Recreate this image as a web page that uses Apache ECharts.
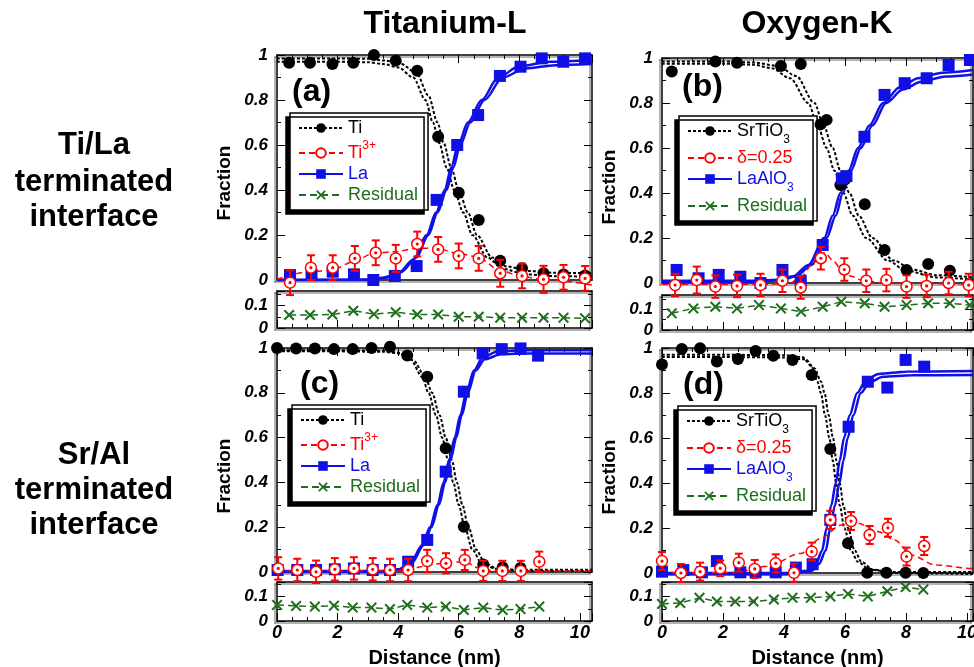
<!DOCTYPE html>
<html><head><meta charset="utf-8">
<script src="https://cdn.jsdelivr.net/npm/echarts@6.0.0/dist/echarts.min.js"></script>
<style>html,body{margin:0;padding:0;background:#fff}#c{width:974px;height:667px}</style>
</head><body><div id="c"></div><script>
// ---------- Panel (a): Titanium-L, Ti/La interface ----------
const a_Ti = [[0.40,0.966],[1.09,0.966],[1.83,0.960],[2.52,0.966],[3.20,1.000],[3.92,0.975],[4.63,0.930],[5.32,0.637],[6.00,0.388],[6.66,0.267],[7.37,0.086],[8.09,0.052],[8.80,0.030],[9.46,0.025],[10.17,0.020]];
const a_La = [[0.43,0.022],[1.14,0.022],[1.84,0.037],[2.54,0.025],[3.18,0.000],[3.89,0.018],[4.61,0.062],[5.27,0.356],[5.95,0.600],[6.64,0.733],[7.36,0.907],[8.04,0.948],[8.74,0.985],[9.45,0.970],[10.17,0.985]];
const a_Ti3 = [[0.43,-0.012,0.055],[1.12,0.055,0.055],[1.84,0.055,0.055],[2.57,0.096,0.055],[3.26,0.121,0.055],[3.92,0.096,0.06],[4.63,0.160,0.055],[5.32,0.136,0.055],[6.00,0.107,0.055],[6.66,0.096,0.055],[7.37,0.030,0.06],[8.09,0.018,0.055],[8.80,0.003,0.06],[9.46,0.012,0.055],[10.17,0.007,0.055]];
const a_Res = [[0.40,0.058],[1.09,0.058],[1.83,0.060],[2.52,0.077],[3.20,0.062],[3.92,0.070],[4.63,0.060],[5.32,0.060],[6.00,0.050],[6.66,0.050],[7.37,0.046],[8.09,0.046],[8.80,0.046],[9.46,0.046],[10.17,0.043]];
const a_Ti_fit1 = [[0,0.985],[2,0.985],[3,0.983],[3.6,0.975],[4.1,0.96],[4.6,0.92],[5.0,0.82],[5.3,0.7],[5.5,0.61],[5.75,0.5],[6.0,0.4],[6.3,0.3],[6.6,0.2],[7.1,0.1],[7.6,0.06],[8.3,0.04],[9.2,0.032],[10.4,0.03]];
const a_Ti_fit2 = [[0,0.97],[2,0.97],[3,0.968],[3.5,0.96],[4.0,0.945],[4.5,0.9],[4.9,0.8],[5.15,0.7],[5.35,0.61],[5.6,0.5],[5.85,0.4],[6.15,0.3],[6.45,0.2],[6.95,0.1],[7.45,0.05],[8.2,0.025],[9.2,0.017],[10.4,0.015]];
const a_La_fit1 = [[0,0.0],[3,0.002],[3.5,0.01],[4,0.03],[4.5,0.09],[4.94,0.2],[5.25,0.3],[5.54,0.4],[5.75,0.5],[5.98,0.6],[6.3,0.7],[6.76,0.8],[7.3,0.9],[8.0,0.95],[9,0.97],[10.4,0.978]];
const a_La_fit2 = [[0,0.0],[3,0.0],[3.6,0.01],[4.1,0.035],[4.6,0.1],[5.0,0.2],[5.3,0.3],[5.6,0.4],[5.82,0.5],[6.05,0.6],[6.38,0.7],[6.85,0.8],[7.45,0.9],[8.2,0.94],[9.2,0.955],[10.4,0.96]];
const a_Ti3_fit = [[0,0.003],[1.09,0.037],[1.8,0.044],[2.52,0.081],[3.18,0.118],[3.89,0.126],[4.61,0.141],[5.27,0.141],[5.98,0.118],[6.59,0.104],[7.36,0.044],[8.07,0.015],[8.79,0.003],[10.4,-0.022]];

// ---------- Panel (b): Oxygen-K, Ti/La interface ----------
const b_STO = [[0.32,0.940],[1.75,0.984],[2.46,0.979],[3.90,0.964],[4.55,0.973],[5.20,0.705],[5.40,0.725],[5.85,0.436],[6.00,0.460],[6.65,0.350],[7.30,0.147],[8.02,0.058],[8.73,0.084],[9.44,0.055]];
const b_LAO = [[0.48,0.058],[1.20,0.021],[1.86,0.036],[2.57,0.028],[3.23,0.000],[3.95,0.058],[4.55,0.010],[5.27,0.169],[5.90,0.465],[6.05,0.475],[6.64,0.650],[7.30,0.836],[7.96,0.888],[8.68,0.910],[9.40,0.969],[10.10,0.991]];
const b_delta = [[0.43,-0.009,0.05],[1.14,0.013,0.06],[1.75,-0.016,0.05],[2.46,-0.013,0.05],[3.23,-0.009,0.05],[3.95,0.010,0.05],[4.55,-0.020,0.05],[5.21,0.110,0.05],[5.98,0.060,0.05],[6.70,0.010,0.05],[7.36,0.013,0.05],[8.02,-0.016,0.05],[8.68,-0.013,0.05],[9.40,0.000,0.05],[10.06,-0.009,0.05]];
const b_Res = [[0.32,0.081],[1.03,0.105],[1.75,0.113],[2.46,0.105],[3.18,0.121],[3.90,0.105],[4.56,0.089],[5.27,0.113],[5.88,0.137],[6.65,0.130],[7.30,0.113],[8.02,0.121],[8.73,0.130],[9.44,0.130],[10.10,0.121]];
const b_STO_fit1 = [[0,0.985],[2,0.985],[3,0.98],[3.8,0.965],[4.4,0.92],[5.0,0.8],[5.3,0.7],[5.6,0.6],[5.85,0.5],[6.15,0.4],[6.45,0.3],[6.9,0.2],[7.6,0.1],[8.2,0.06],[9,0.035],[10.2,0.025]];
const b_STO_fit2 = [[0,0.975],[2,0.975],[3,0.97],[3.6,0.955],[4.2,0.91],[4.8,0.8],[5.1,0.7],[5.4,0.6],[5.65,0.5],[5.95,0.4],[6.25,0.3],[6.7,0.2],[7.4,0.1],[8.0,0.055],[9,0.025],[10.2,0.015]];
const b_LAO_fit1 = [[0,0.01],[3,0.01],[3.8,0.015],[4.3,0.03],[4.8,0.08],[5.32,0.2],[5.6,0.3],[5.85,0.4],[6.12,0.5],[6.43,0.6],[6.8,0.7],[7.25,0.8],[7.8,0.87],[8.4,0.91],[9.2,0.935],[10.2,0.947]];
const b_LAO_fit2 = [[0,0.005],[3,0.005],[3.9,0.012],[4.4,0.03],[4.9,0.08],[5.4,0.2],[5.7,0.3],[5.93,0.4],[6.2,0.5],[6.52,0.6],[6.9,0.7],[7.35,0.8],[7.9,0.86],[8.5,0.895],[9.3,0.918],[10.2,0.927]];
const b_delta_fit = [[0,-0.005],[3.5,-0.005],[4.2,0.0],[4.6,0.03],[4.9,0.08],[5.15,0.125],[5.35,0.135],[5.6,0.1],[5.9,0.058],[6.2,0.03],[6.55,0.013],[7.2,0.0],[10.2,-0.005]];

// ---------- Panel (c): Titanium-L, Sr/Al interface ----------
const c_Ti = [[0.00,1.000],[0.63,0.998],[1.25,0.998],[1.88,0.995],[2.50,0.995],[3.12,1.000],[3.73,1.006],[4.30,0.966],[4.96,0.872],[5.57,0.552],[6.17,0.202],[6.81,0.034],[7.45,0.020],[8.04,0.018]];
const c_La = [[0.02,0.009],[0.67,0.009],[1.29,0.009],[1.91,0.012],[2.54,0.016],[3.16,0.009],[3.73,0.009],[4.33,0.046],[4.96,0.143],[5.57,0.448],[6.17,0.805],[6.79,0.976],[7.42,0.995],[8.04,0.998],[8.62,0.966]];
const c_Ti3 = [[0.04,0.016,0.05],[0.67,0.009,0.05],[1.29,0.001,0.05],[1.91,0.012,0.05],[2.54,0.016,0.05],[3.16,0.012,0.05],[3.73,0.009,0.05],[4.33,0.009,0.05],[4.96,0.049,0.05],[5.58,0.039,0.045],[6.20,0.054,0.045],[6.81,0.005,0.045],[7.44,0.005,0.045],[8.05,0.005,0.045],[8.66,0.046,0.045]];
const c_Res = [[0.00,0.066],[0.63,0.062],[1.25,0.059],[1.88,0.063],[2.50,0.055],[3.12,0.055],[3.73,0.049],[4.30,0.066],[4.96,0.055],[5.57,0.059],[6.17,0.045],[6.81,0.055],[7.45,0.045],[8.04,0.049],[8.66,0.059]];
const c_Ti_fit1 = [[0,0.99],[2,0.99],[3.5,0.988],[4.0,0.98],[4.4,0.95],[4.8,0.87],[5.0,0.8],[5.25,0.7],[5.45,0.6],[5.65,0.5],[5.82,0.4],[6.0,0.3],[6.2,0.2],[6.45,0.1],[6.75,0.04],[7.2,0.015],[8,0.01],[10.4,0.01]];
const c_Ti_fit2 = [[0,0.985],[2,0.985],[3.5,0.983],[4.1,0.975],[4.5,0.945],[4.9,0.87],[5.12,0.8],[5.37,0.7],[5.57,0.6],[5.77,0.5],[5.94,0.4],[6.12,0.3],[6.32,0.2],[6.57,0.1],[6.87,0.04],[7.3,0.012],[8,0.005],[10.4,0.005]];
const c_La_fit1 = [[0,0.005],[3.5,0.005],[4.0,0.012],[4.4,0.04],[4.8,0.12],[5.05,0.2],[5.3,0.3],[5.5,0.4],[5.68,0.5],[5.87,0.6],[6.05,0.7],[6.25,0.8],[6.5,0.9],[6.8,0.96],[7.3,0.985],[8.2,0.99],[10.4,0.99]];
const c_La_fit2 = [[0,0.0],[3.5,0.0],[4.05,0.01],[4.45,0.04],[4.85,0.12],[5.1,0.2],[5.35,0.3],[5.55,0.4],[5.73,0.5],[5.92,0.6],[6.1,0.7],[6.3,0.8],[6.56,0.9],[6.86,0.95],[7.4,0.972],[8.3,0.976],[10.4,0.976]];
const c_Ti3_fit = [[0,0.005],[4.0,0.005],[4.4,0.012],[4.8,0.025],[5.2,0.035],[5.6,0.04],[6.0,0.045],[6.3,0.04],[6.6,0.02],[7.0,0.008],[8,0.005],[10.4,0.005]];

// ---------- Panel (d): Oxygen-K, Sr/Al interface ----------
const d_STO = [[0.00,0.927],[0.65,0.996],[1.25,0.999],[1.80,0.940],[2.49,0.951],[3.07,0.987],[3.65,0.966],[4.28,0.947],[4.91,0.880],[5.52,0.551],[6.10,0.132],[6.73,0.001],[7.36,0.001],[7.99,0.001],[8.57,0.000]];
const d_LAO = [[0.00,0.006],[0.70,0.013],[1.31,0.003],[1.80,0.053],[2.57,0.003],[3.07,0.003],[3.73,0.003],[4.39,0.024],[4.94,0.039],[5.52,0.236],[6.12,0.650],[6.75,0.850],[7.39,0.824],[7.99,0.947],[8.60,0.917]];
const d_delta = [[0.00,0.053,0.04],[0.62,0.000,0.04],[1.25,0.006,0.04],[1.91,0.021,0.035],[2.52,0.046,0.04],[3.04,0.018,0.04],[3.73,0.043,0.04],[4.33,0.001,0.04],[4.91,0.095,0.04],[5.52,0.236,0.04],[6.20,0.231,0.04],[6.81,0.169,0.04],[7.41,0.201,0.04],[8.02,0.073,0.04],[8.60,0.120,0.04]];
const d_Res = [[0.00,0.070],[0.60,0.074],[1.23,0.095],[1.80,0.080],[2.40,0.080],[3.00,0.080],[3.67,0.088],[4.28,0.095],[4.88,0.095],[5.52,0.101],[6.10,0.111],[6.75,0.101],[7.39,0.122],[7.99,0.139],[8.57,0.129]];
const d_STO_fit1 = [[0,0.97],[2,0.97],[4,0.968],[4.6,0.96],[4.9,0.92],[5.1,0.85],[5.21,0.8],[5.35,0.7],[5.49,0.6],[5.6,0.5],[5.71,0.4],[5.83,0.3],[5.98,0.2],[6.2,0.1],[6.42,0.05],[6.8,0.015],[7.5,0.005],[10.2,0.005]];
const d_STO_fit2 = [[0,0.96],[2,0.96],[4,0.958],[4.7,0.95],[5.0,0.91],[5.22,0.85],[5.33,0.8],[5.47,0.7],[5.61,0.6],[5.72,0.5],[5.83,0.4],[5.95,0.3],[6.1,0.2],[6.32,0.1],[6.54,0.05],[6.92,0.015],[7.6,0.0],[10.2,-0.005]];
const d_LAO_fit1 = [[0,0.0],[4,0.0],[4.8,0.01],[5.05,0.04],[5.25,0.1],[5.4,0.2],[5.55,0.3],[5.7,0.4],[5.83,0.5],[5.97,0.6],[6.15,0.7],[6.4,0.8],[6.7,0.86],[7.1,0.885],[8,0.895],[10.2,0.898]];
const d_LAO_fit2 = [[0,-0.005],[4,-0.005],[4.9,0.008],[5.15,0.04],[5.37,0.1],[5.52,0.2],[5.67,0.3],[5.82,0.4],[5.95,0.5],[6.09,0.6],[6.27,0.7],[6.52,0.8],[6.82,0.85],[7.25,0.872],[8.2,0.879],[10.2,0.88]];
const d_delta_fit = [[0,0.0],[2.35,0.002],[3.45,0.03],[4.55,0.087],[5.21,0.154],[5.87,0.213],[6.42,0.221],[7.08,0.184],[7.63,0.147],[8.18,0.08],[8.95,0.036],[10.16,0.02],[10.2,0.02]];

// ---------- labels ----------
const colTitles = ['Titanium-L','Oxygen-K'];
const rowLabels = [['Ti/La','terminated','interface'],['Sr/Al','terminated','interface']];
const panelTags = ['(a)','(b)','(c)','(d)'];
const legendNamesTi = ['Ti','Ti3+','La','Residual'];
const legendNamesO = ['SrTiO3','delta','LaAlO3','Residual'];
const xName = 'Distance (nm)', yName = 'Fraction';

// ---------- styling ----------
const FONT = '"Liberation Sans", Arial, sans-serif';
const BLACK='#000', RED='#ff0000', BLUE='#1010e6', GREEN='#1e6e1e';
const X_SYM = 'path://M0,1.3L1.3,0L5,3.7L8.7,0L10,1.3L6.3,5L10,8.7L8.7,10L5,6.3L1.3,10L0,8.7L3.7,5Z';

const panels = [
  {left:277, top:55, h:225, w:315, xMax:10.4, rTop:291, rH:37, rMax:0.165, bottom:false, names:legendNamesTi,
   k:a_Ti, bl:a_La, red:a_Ti3, res:a_Res, k1:a_Ti_fit1, k2:a_Ti_fit2, b1:a_La_fit1, b2:a_La_fit2, r:a_Ti3_fit,
   lg:[290,113], tag:[292,92], frac:[225,183]},
  {left:662, top:58, h:225, w:311, xMax:10.2, rTop:295, rH:35, rMax:0.17, bottom:false, names:legendNamesO,
   k:b_STO, bl:b_LAO, red:b_delta, res:b_Res, k1:b_STO_fit1, k2:b_STO_fit2, b1:b_LAO_fit1, b2:b_LAO_fit2, r:b_delta_fit,
   lg:[679,116], tag:[682,87], frac:[610,187]},
  {left:277, top:348, h:224, w:315, xMax:10.4, rTop:582, rH:39, rMax:0.16, bottom:true, names:legendNamesTi,
   k:c_Ti, bl:c_La, red:c_Ti3, res:c_Res, k1:c_Ti_fit1, k2:c_Ti_fit2, b1:c_La_fit1, b2:c_La_fit2, r:c_Ti3_fit,
   lg:[292,405], tag:[300,384], frac:[225,476]},
  {left:662, top:348, h:225, w:311, xMax:10.2, rTop:582, rH:39, rMax:0.16, bottom:true, names:legendNamesO,
   k:d_STO, bl:d_LAO, red:d_delta, res:d_Res, k1:d_STO_fit1, k2:d_STO_fit2, b1:d_LAO_fit1, b2:d_LAO_fit2, r:d_delta_fit,
   lg:[678,406], tag:[683,385], frac:[610,477]}
];

const axisLineStyle = {color:'#000', width:1.5, shadowColor:'rgba(0,0,0,0.4)', shadowOffsetX:-2, shadowOffsetY:2, shadowBlur:0};
const labelStyle = {fontSize:17, fontWeight:'bold', fontStyle:'italic', fontFamily:FONT, color:'#000',
  textShadowColor:'rgba(0,0,0,0.5)', textShadowOffsetX:2, textShadowOffsetY:1, textShadowBlur:0};

function xAx(grid, pos, max, ticks, labels, name){
  return {type:'value', gridIndex:grid, position:pos, min:0, max:max, interval:2,
    axisLine:{show:true, onZero:false, lineStyle:axisLineStyle},
    axisTick:{show:ticks, inside:true, length:8, lineStyle:{color:'#000', width:1}},
    minorTick:{show:ticks, splitNumber:4, length:4, lineStyle:{color:'#000', width:1}},
    splitLine:{show:false}, minorSplitLine:{show:false},
    axisLabel:{show:labels, margin:3, showMaxLabel:false, ...labelStyle, fontSize:18},
    name: name||'', nameLocation:'middle', nameGap:27,
    nameTextStyle:{fontSize:20, fontWeight:'bold', fontFamily:FONT, color:'#000', textShadowColor:'rgba(0,0,0,0.5)', textShadowOffsetX:2, textShadowBlur:0}};
}
function yAx(grid, pos, max, interval, labels, hideMax){
  return {type:'value', gridIndex:grid, position:pos, min:0, max:max, interval:interval,
    axisLine:{show:true, onZero:false, lineStyle:axisLineStyle},
    axisTick:{show:true, inside:true, length:8, lineStyle:{color:'#000', width:1}},
    minorTick:{show:true, splitNumber:2, length:4, lineStyle:{color:'#000', width:1}},
    splitLine:{show:false}, minorSplitLine:{show:false},
    axisLabel:{show:labels, margin:9, showMaxLabel:!hideMax, ...labelStyle}};
}

function redRender(params, api){
  const x = api.value(0), y = api.value(1), e = api.value(2);
  const p = api.coord([x,y]), t = api.coord([x,y+e]), b = api.coord([x,y-e]);
  const cw = 4, st = {stroke:RED, lineWidth:2};
  return {type:'group', children:[
    {type:'line', shape:{x1:p[0],y1:t[1],x2:p[0],y2:b[1]}, style:st},
    {type:'line', shape:{x1:p[0]-cw,y1:t[1],x2:p[0]+cw,y2:t[1]}, style:st},
    {type:'line', shape:{x1:p[0]-cw,y1:b[1],x2:p[0]+cw,y2:b[1]}, style:st},
    {type:'circle', shape:{cx:p[0],cy:p[1],r:5.5}, style:{fill:'#fff', stroke:RED, lineWidth:1.5}},
    {type:'circle', shape:{cx:p[0],cy:p[1],r:1.6}, style:{fill:RED}}
  ]};
}

const grids=[], xAxes=[], yAxes=[], series=[], legends=[], graphics=[];
const common = {silent:true, animation:false, clip:false};

panels.forEach((p,i)=>{
  const gm = grids.length; grids.push({left:p.left, top:p.top, width:p.w, height:p.h, containLabel:false, outerBoundsMode:'none'});
  const gr = grids.length; grids.push({left:p.left, top:p.rTop, width:p.w, height:p.rH, containLabel:false, outerBoundsMode:'none'});
  const xm = xAxes.length;
  xAxes.push(xAx(gm,'bottom',p.xMax,false,false));
  xAxes.push(xAx(gm,'top',p.xMax,true,false));
  const xr = xAxes.length;
  xAxes.push(xAx(gr,'bottom',p.xMax,true,p.bottom, p.bottom ? xName : ''));
  xAxes.push(xAx(gr,'top',p.xMax,false,false));
  const ym = yAxes.length;
  yAxes.push(yAx(gm,'left',1,0.2,true,false));
  yAxes.push(yAx(gm,'right',1,0.2,false,false));
  const yr = yAxes.length;
  yAxes.push(yAx(gr,'left',p.rMax,0.1,true,true));
  yAxes.push(yAx(gr,'right',p.rMax,0.1,false,true));

  const [nK, nR, nB, nG] = p.names;
  const fit = (name, data, color, type, width, symbol) => ({type:'line', name, data, xAxisIndex:xm, yAxisIndex:ym,
    showSymbol:false, symbol, smooth:0.3, smoothMonotone:'x', lineStyle:{color, type, width}, itemStyle:{color, opacity:1}, z:2, ...common});
  series.push(fit(nK, p.k1, BLACK, [3,2], 2, 'circle'));
  series.push(fit(nK+'_2_'+i, p.k2, BLACK, [3,2], 2, 'circle'));
  series.push(fit(nB, p.b1, BLUE, 'solid', 2.5, 'rect'));
  series.push(fit(nB+'_2_'+i, p.b2, BLUE, 'solid', 2.5, 'rect'));
  series.push(fit(nR, p.r, RED, [6,4], 1.5, 'emptyCircle'));
  series.push({type:'scatter', name:nK+'_pts_'+i, data:p.k, xAxisIndex:xm, yAxisIndex:ym, symbol:'circle', symbolSize:12, itemStyle:{color:BLACK, opacity:1}, z:4, ...common});
  series.push({type:'scatter', name:nB+'_pts_'+i, data:p.bl, xAxisIndex:xm, yAxisIndex:ym, symbol:'rect', symbolSize:12, itemStyle:{color:BLUE, opacity:1}, z:4, ...common});
  series.push({type:'custom', name:nR+'_pts_'+i, data:p.red, xAxisIndex:xm, yAxisIndex:ym, renderItem:redRender, encode:{x:0,y:1}, z:5, ...common});
  series.push({type:'line', name:nG, data:p.res, xAxisIndex:xr, yAxisIndex:yr, symbol:X_SYM, symbolSize:11, showSymbol:true,
    lineStyle:{color:GREEN, type:[7,4], width:1.5}, itemStyle:{color:GREEN, opacity:1}, z:3, ...common});

  const colors = [BLACK, RED, BLUE, GREEN];
  legends.push({orient:'vertical', left:p.lg[0], top:p.lg[1], itemWidth:44, itemHeight:12, itemGap:3,
    padding:[6,10,6,8], backgroundColor:'#fff', borderColor:'#000', borderWidth:1.5,
    shadowColor:'#000', shadowOffsetX:-4, shadowOffsetY:4, shadowBlur:0, selectedMode:false,
    data:p.names.map((n,j)=>({name:n, textStyle:{color:colors[j]}})),
    textStyle:{fontSize:18, fontFamily:FONT, rich:{
      supR:{fontSize:12, color:RED, fontFamily:FONT, verticalAlign:'top', lineHeight:26},
      subK:{fontSize:12, color:BLACK, fontFamily:FONT, verticalAlign:'bottom', lineHeight:30},
      subB:{fontSize:12, color:BLUE, fontFamily:FONT, verticalAlign:'bottom', lineHeight:30}}},
    formatter:n=>({'Ti3+':'Ti{supR|3+}','SrTiO3':'SrTiO{subK|3}','LaAlO3':'LaAlO{subB|3}','delta':'δ=0.25'})[n] || n});

  graphics.push({type:'text', x:p.tag[0], y:p.tag[1], style:{text:panelTags[i], fontSize:32, fontWeight:'bold', fontFamily:FONT, fill:'#000', align:'left', verticalAlign:'middle'}, z:10});
  graphics.push({type:'text', x:p.frac[0], y:p.frac[1], rotation:Math.PI/2, style:{text:yName, fontSize:19, fontWeight:'bold', fontFamily:FONT, fill:'#000', align:'center', verticalAlign:'middle', shadowColor:'rgba(0,0,0,0.5)', shadowOffsetX:0, shadowOffsetY:-2, shadowBlur:0}, z:10});
});

graphics.push({type:'text', x:445, y:24, style:{text:colTitles[0], fontSize:32, fontWeight:'bold', fontFamily:FONT, fill:'#000', align:'center', verticalAlign:'middle'}});
graphics.push({type:'text', x:817, y:24, style:{text:colTitles[1], fontSize:32, fontWeight:'bold', fontFamily:FONT, fill:'#000', align:'center', verticalAlign:'middle'}});
const rowY = [[145,182,217],[455,490,525]];
rowLabels.forEach((lines,r)=>lines.forEach((t,k)=>graphics.push({type:'text', x:94, y:rowY[r][k],
  style:{text:t, fontSize:31, fontWeight:'bold', fontFamily:FONT, fill:'#000', align:'center', verticalAlign:'middle'}})));

const chart = echarts.init(document.getElementById('c'), null, {renderer:'canvas'});
chart.setOption({animation:false, backgroundColor:'#fff', grid:grids, xAxis:xAxes, yAxis:yAxes, series, legend:legends, graphic:graphics});
</script></body></html>
